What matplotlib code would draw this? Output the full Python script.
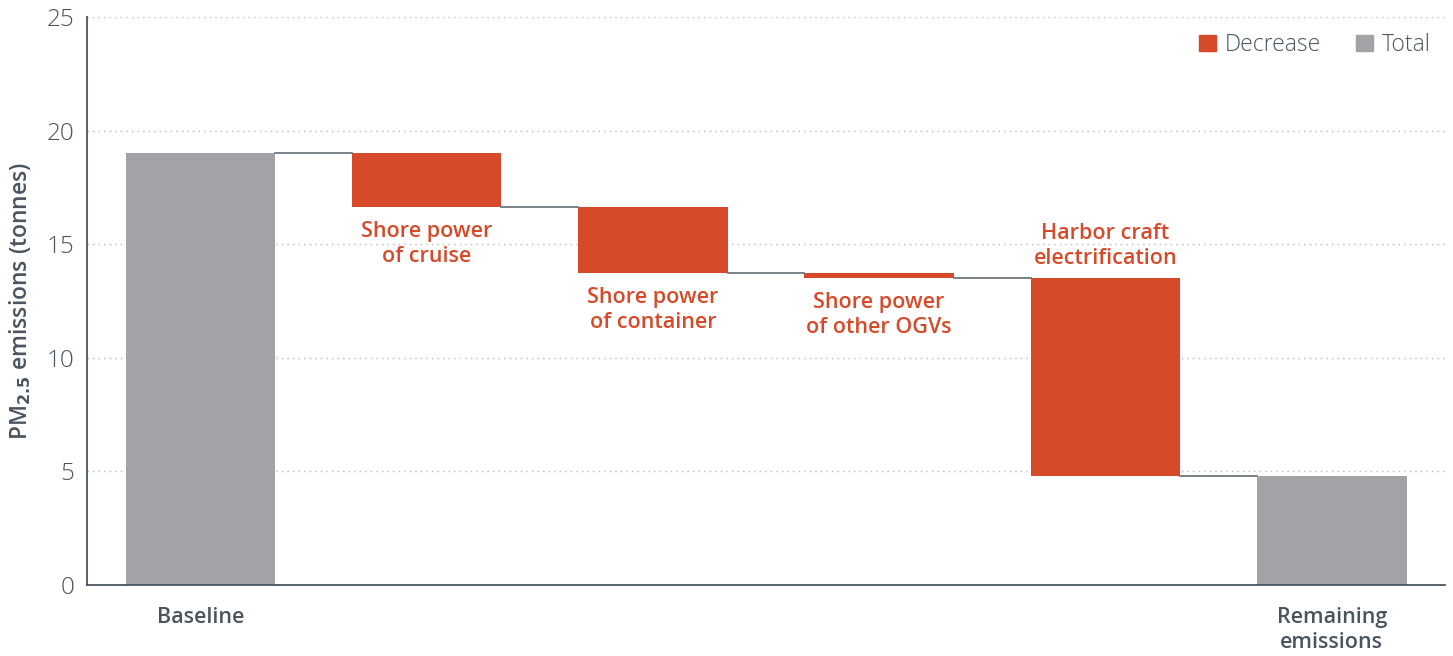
import matplotlib.pyplot as plt
from matplotlib.patches import Patch

# data
steps = ["Baseline", "Shore power\nof cruise", "Shore power\nof container",
         "Shore power\nof other OGVs", "Harbor craft\nelectrification", "Remaining\nemissions"]
baseline = 19.0
decreases = [2.35, 2.92, 0.21, 8.72]
remaining = 4.8
label_side = ["below", "below", "below", "above"]
tick_names = ["Baseline", "", "", "", "", "Remaining\nemissions"]

ORANGE = "#D64A29"
GRAY = "#A3A2A7"
TEXT = "#4A5560"
LINE = "#6E7880"

plt.rcParams['font.family'] = ['Open Sans', 'DejaVu Sans']

fig = plt.figure(figsize=(14.53, 6.56), dpi=100)
ax = fig.add_axes([0.0599, 0.1082, 0.9346, 0.8659])

w = 0.66
x = list(range(len(steps)))

# totals
ax.bar(x[0], baseline, width=w, color=GRAY, zorder=2)
ax.bar(x[-1], remaining, width=w, color=GRAY, zorder=2)

# decreases
level = baseline
levels = [baseline]
for i, d in enumerate(decreases):
    xi = x[i + 1]
    ax.bar(xi, d, bottom=level - d, width=w, color=ORANGE, zorder=2)
    if label_side[i] == "below":
        ax.annotate(steps[i + 1], (xi, level - d), xytext=(0, -10), textcoords="offset points",
                    ha="center", va="top", color=ORANGE, fontsize=15.5, fontweight="semibold",
                    linespacing=1.25)
    else:
        ax.annotate(steps[i + 1], (xi, level), xytext=(0, 6), textcoords="offset points",
                    ha="center", va="bottom", color=ORANGE, fontsize=15.5, fontweight="semibold",
                    linespacing=1.25)
    level -= d
    levels.append(level)

# connector lines between bars
for i, lv in enumerate(levels):
    ax.plot([x[i] + w / 2, x[i + 1] - w / 2], [lv, lv], color=LINE, lw=1.3, zorder=3)

ax.set_xlim(-0.5, 5.5)
ax.set_ylim(0, 25)
ax.set_yticks([0, 5, 10, 15, 20, 25])
ax.set_xticks(x)
ax.set_xticklabels(tick_names, fontsize=15.5, fontweight="semibold", color=TEXT, linespacing=1.25)
ax.tick_params(axis="x", length=0, pad=16)
ax.tick_params(axis="y", length=0, pad=9, labelsize=17.5, labelcolor=TEXT)
for t in ax.get_yticklabels():
    t.set_fontweight("light")
ax.yaxis.grid(True, linestyle=(0, (1, 3)), color="#BBBBBB", lw=1, zorder=0)
ax.set_axisbelow(True)

for s in ["top", "right"]:
    ax.spines[s].set_visible(False)
ax.spines["left"].set_color(TEXT)
ax.spines["bottom"].set_color(TEXT)
ax.spines["left"].set_linewidth(1.3)
ax.spines["bottom"].set_linewidth(1.3)

ax.set_ylabel(r"PM$_{\mathbf{2.5}}$ emissions (tonnes)", fontsize=16.5, fontweight="semibold",
              color=TEXT, labelpad=10)

handles = [Patch(color=ORANGE, label="Decrease"), Patch(color=GRAY, label="Total")]
leg = ax.legend(handles=handles, loc="upper right", ncol=2, frameon=False,
                handlelength=0.75, handleheight=0.75, handletextpad=0.4, columnspacing=1.5,
                bbox_to_anchor=(1.005, 1.008), labelcolor=TEXT,
                prop={"size": 16.5, "weight": "light"})

fig.savefig("out.png", dpi=100)
